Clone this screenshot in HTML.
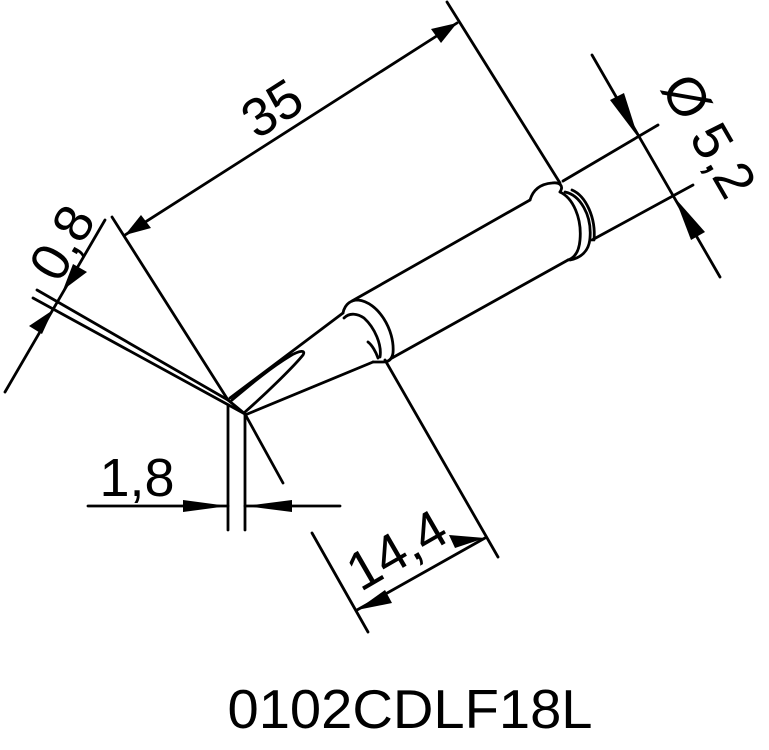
<!DOCTYPE html>
<html><head><meta charset="utf-8"><style>html,body{margin:0;padding:0;background:#fff}svg{display:block}</style></head><body>
<svg width="769" height="750" viewBox="0 0 769 750" xmlns="http://www.w3.org/2000/svg">
<g stroke="#000" stroke-width="2.8" fill="none" stroke-linecap="round" stroke-linejoin="round">
<line x1="37" y1="290" x2="228" y2="400"/>
<line x1="33" y1="298" x2="245" y2="414"/>
<line x1="112" y1="217" x2="228" y2="400"/>
<line x1="245" y1="414" x2="283" y2="483"/>
<line x1="228" y1="400" x2="245" y2="414"/>
<line x1="228" y1="405" x2="228" y2="530"/>
<line x1="245" y1="414" x2="245" y2="530"/>
<line x1="230" y1="398" x2="343" y2="313"/>
<line x1="245" y1="415" x2="373" y2="362"/>
<path d="M245 412 C270 390 295 365 303 355 C306 350 300 350 290 356 C270 368 250 385 232 400"/>
<path d="M343 313 C345 303 352 300 358 300 C378 302 395 330 393 353 C392 360 388 362 383 362 L373 362"/>
<path d="M344 318 C350 312 358 314 364 318 C375 328 382 345 380 357"/>
<path d="M368 342 C372 345 376 352 378 358"/>
<line x1="352" y1="301" x2="530" y2="200"/>
<line x1="392" y1="358" x2="568" y2="260"/>
<path d="M530 200 C533 190 540 184 552 183 C560 182 564 186 560 192"/>
<path d="M565 192 C580 195 592 215 590 238 C589 252 580 258 570 260"/>
<path d="M572 190 C586 196 596 218 594 240"/>
<path d="M560 192 C573 198 582 218 580 240 C579 252 574 258 568 260"/>
<line x1="563" y1="181" x2="658" y2="125"/>
<line x1="592" y1="240" x2="693" y2="185"/>
<line x1="125" y1="235" x2="457" y2="23"/>
<line x1="447" y1="2" x2="560" y2="183"/>
<line x1="5" y1="392" x2="105" y2="220"/>
<line x1="88" y1="506" x2="228" y2="506"/>
<line x1="245" y1="506" x2="340" y2="506"/>
<line x1="592" y1="55" x2="720" y2="277"/>
<line x1="385" y1="360" x2="498" y2="557"/>
<line x1="312" y1="533" x2="368" y2="632"/>
<line x1="357" y1="610" x2="485" y2="538"/>
</g>
<g fill="#000">
<polygon points="125,235 141,215 151,228"/>
<polygon points="457,23 431,29 441,43"/>
<polygon points="63,290 73,264 87,272"/>
<polygon points="53,310 42,334 29,326"/>
<polygon points="228,506 183,500 183,512"/>
<polygon points="245,506 292,500 292,512"/>
<polygon points="638,137 610,100 624,93"/>
<polygon points="675,198 705,232 691,240"/>
<polygon points="357,610 385,590 392,603"/>
<polygon points="485,538 455,548 449,535"/>
</g>
<g font-family="Liberation Sans, Arial, sans-serif" fill="#000" font-size="54" text-anchor="middle">
<text x="0" y="0" transform="translate(282,124) rotate(-32.6)">35</text>
<text x="0" y="0" transform="translate(78,252) rotate(-60)">0,8</text>
<text x="137" y="496">1,8</text>
<text x="0" y="0" transform="translate(406,566) rotate(-30)">14,4</text>
<text x="0" y="0" transform="translate(693,145) rotate(60)">Ø 5,2</text>
<text x="410" y="728" font-size="55" textLength="365" lengthAdjust="spacingAndGlyphs">0102CDLF18L</text>
</g>
</svg>
</body></html>
